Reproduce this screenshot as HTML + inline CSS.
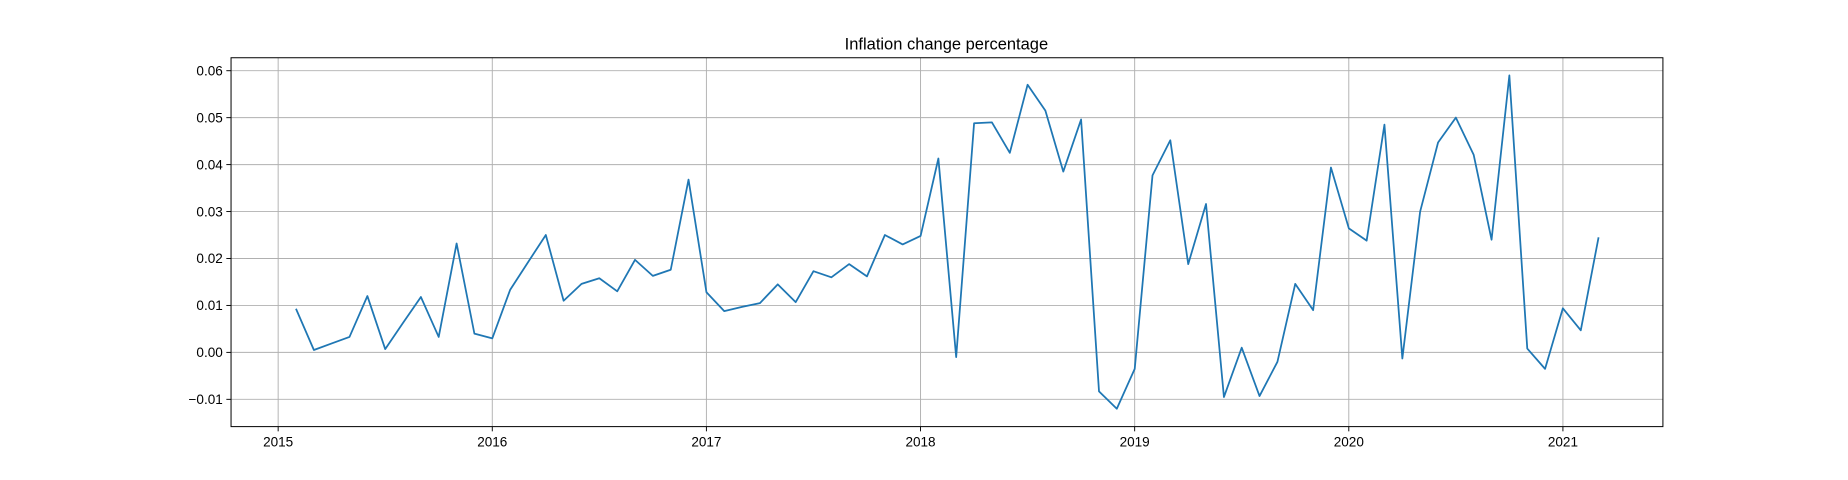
<!DOCTYPE html>
<html><head><meta charset="utf-8"><style>
html,body{margin:0;padding:0;background:#fff;}
svg{display:block;font-family:"Liberation Sans","DejaVu Sans",sans-serif;}
</style></head><body>
<svg id="chart" width="1848" height="480" viewBox="0 0 1568 407.3">
<text x="803" y="42" text-anchor="middle" font-size="14" fill="#000">Inflation change percentage</text>
<g id="grid"></g>
<g id="ticks"></g>
<path id="line" fill="none" stroke="#1f77b4" stroke-width="1.5" stroke-linejoin="round"></path>
<rect x="196" y="49" width="1215" height="313" fill="none" stroke="#000" stroke-width="0.85"></rect>
</svg>
<script>
const startYear = 2015 + 1/12;
const values = [0.0093,0.0005,0.0019,0.0033,0.0120,0.0007,0.0063,0.0118,0.0033,0.0232,0.0040,0.0030,
0.0133,0.0192,0.0250,0.0110,0.0146,0.0158,0.0130,0.0197,0.0163,0.0176,0.0368,0.0128,
0.0088,0.0097,0.0105,0.0145,0.0107,0.0173,0.0160,0.0188,0.0162,0.0250,0.0230,0.0248,
0.0413,-0.0010,0.0488,0.0490,0.0425,0.0570,0.0515,0.0385,0.0496,-0.0083,-0.0120,-0.0035,
0.0377,0.0452,0.0188,0.0316,-0.0095,0.0010,-0.0093,-0.0020,0.0146,0.0090,0.0394,0.0264,
0.0238,0.0485,-0.0013,0.0300,0.0447,0.0500,0.0421,0.0240,0.0590,0.0008,-0.0035,0.0094,
0.0047,0.0245];
const xTicks = [2015,2016,2017,2018,2019,2020,2021];
const yTicks = [-0.01,0.00,0.01,0.02,0.03,0.04,0.05,0.06];
const yLabels = ["\u22120.01","0.00","0.01","0.02","0.03","0.04","0.05","0.06"];

const L=196,R=1411,T=49,B=362;
const x0=2014.78,x1=2021.467,y0=-0.01581,y1=0.06276;
const sx=v=>L+(v-x0)/(x1-x0)*(R-L);
const sy=v=>B-(v-y0)/(y1-y0)*(B-T);
const NS="http://www.w3.org/2000/svg";
const grid=document.getElementById('grid'), ticks=document.getElementById('ticks');
function mk(tag,attrs,parent){const e=document.createElementNS(NS,tag);for(const k in attrs)e.setAttribute(k,attrs[k]);parent.appendChild(e);return e;}
xTicks.forEach(t=>{
  const x=sx(t);
  const g=mk('line',{x1:x,x2:x,y1:T,y2:B,stroke:'#b0b0b0','stroke-width':0.8},grid);
  
  
  const tk=mk('line',{x1:x,x2:x,y1:B,y2:B+4,stroke:'#000','stroke-width':0.8},ticks);
  
  
  const tx=mk('text',{x:x,y:B+17,'text-anchor':'middle','font-size':11.5},ticks);
  tx.textContent=t;
  
  
});
yTicks.forEach((t,i)=>{
  const y=sy(t);
  const g=mk('line',{x1:L,x2:R,y1:y,y2:y,stroke:'#b0b0b0','stroke-width':0.8},grid);
  
  
  const tk=mk('line',{x1:L-4,x2:L,y1:y,y2:y,stroke:'#000','stroke-width':0.8},ticks);
  
  
  const tx=mk('text',{x:L-7,y:y+4,'text-anchor':'end','font-size':11.5},ticks);
  tx.textContent=yLabels[i];
  
  
});
document.getElementById('line').setAttribute('d',values.map((v,i)=>(i?'L':'M')+sx(startYear+i/12).toFixed(1)+','+sy(v).toFixed(1)).join(''));
</script>
</body></html>
